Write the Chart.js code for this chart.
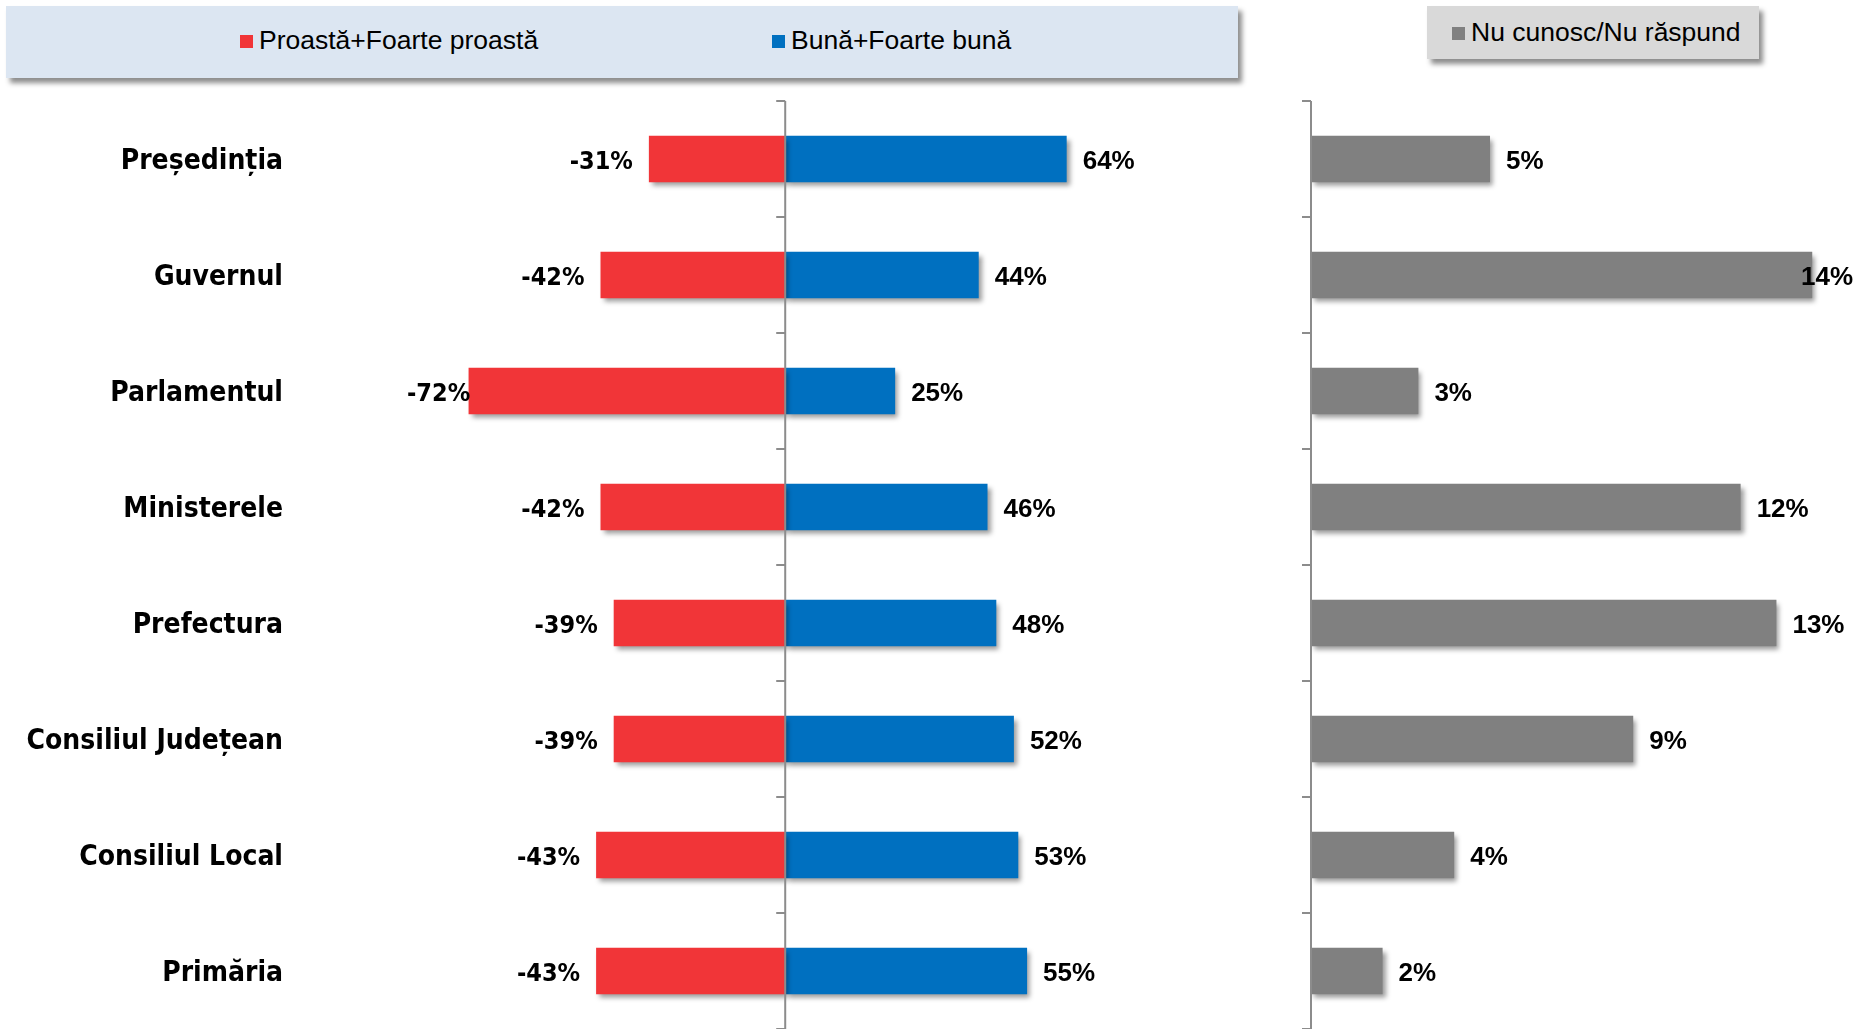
<!DOCTYPE html>
<html>
<head>
<meta charset="utf-8">
<script src="https://cdn.jsdelivr.net/npm/chart.js@4/dist/chart.umd.min.js"></script>
<style>
  body { margin: 0; background: #fff; width: 1857px; height: 1029px; overflow: hidden; position: relative; }
  #left-wrap { position: absolute; left: 0; top: 0; width: 1240px; height: 1029px; }
  #right-wrap { position: absolute; left: 1245px; top: 0; width: 612px; height: 1029px; }
  .legend-box { position: absolute; font-family: "Liberation Sans", Arial, sans-serif; font-size: 26.5px; color: #000; }
  .legend-item { position: absolute; white-space: nowrap; line-height: 30px; }
  .legend-item span { display: inline-block; width: 13px; height: 13px; margin-right: 6px; vertical-align: 1px; }
</style>
</head>
<body>
<div id="legend-main" class="legend-box" style="left:6px; top:6px; width:1232px; height:72px; background:#DCE6F2; box-shadow:4px 5px 5px rgba(0,0,0,0.45);"></div>
<div id="legend-side" class="legend-box" style="left:1427px; top:6px; width:332px; height:53px; background:#D9D9D9; box-shadow:4px 5px 5px rgba(0,0,0,0.45);"></div>
<div id="left-wrap"><canvas id="chart-left"></canvas></div>
<div id="right-wrap"><canvas id="chart-right"></canvas></div>
<script>
var categories = ['Președinția', 'Guvernul', 'Parlamentul', 'Ministerele', 'Prefectura', 'Consiliul Județean', 'Consiliul Local', 'Primăria'];
var badValues = [-31, -42, -72, -42, -39, -39, -43, -43];
var goodValues = [64, 44, 25, 46, 48, 52, 53, 55];
var unknownValues = [5, 14, 3, 12, 13, 9, 4, 2];

var seriesNames = ['Proastă+Foarte proastă', 'Bună+Foarte bună', 'Nu cunosc/Nu răspund'];
var seriesColors = ['#F13538', '#0070C0', '#808080'];

var narrowFont = '"Liberation Sans Narrow", "DejaVu Sans Condensed", "Arial Narrow", sans-serif';
var plainFont = '"Liberation Sans", Arial, sans-serif';

// html legends
var addLegendItem = function(boxId, idx, left, top) {
  var el = document.createElement('div');
  el.className = 'legend-item';
  el.style.left = left + 'px';
  el.style.top = top + 'px';
  el.innerHTML = '<span style="background:' + seriesColors[idx] + '"></span>' + seriesNames[idx];
  document.getElementById(boxId).appendChild(el);
};
addLegendItem('legend-main', 0, 234, 19);
addLegendItem('legend-main', 1, 766, 19);
addLegendItem('legend-side', 2, 25, 11);

var barShadow = {
  id: 'barShadow',
  beforeDatasetDraw: function(chart) {
    var ctx = chart.ctx;
    ctx.save();
    ctx.shadowColor = 'rgba(0,0,0,0.4)';
    ctx.shadowBlur = 5;
    ctx.shadowOffsetX = 3;
    ctx.shadowOffsetY = 4;
  },
  afterDatasetDraw: function(chart) {
    chart.ctx.restore();
  }
};

var centerAxis = {
  id: 'centerAxis',
  afterDatasetsDraw: function(chart) {
    var ctx = chart.ctx, x = chart.scales.x.getPixelForValue(0), y = chart.scales.y;
    ctx.save();
    ctx.strokeStyle = '#8C8C8C';
    ctx.lineWidth = 2;
    ctx.beginPath();
    ctx.moveTo(x, chart.chartArea.top);
    ctx.lineTo(x, chart.chartArea.bottom);
    for (var i = 0; i <= categories.length; i++) {
      var ty = Math.round(y.getPixelForValue(i - 0.5));
      ctx.moveTo(x - 9, ty);
      ctx.lineTo(x, ty);
    }
    ctx.stroke();
    ctx.restore();
  }
};

var valueLabels = {
  id: 'valueLabels',
  afterDatasetsDraw: function(chart) {
    var ctx = chart.ctx, area = chart.chartArea;
    ctx.save();
    ctx.fillStyle = '#000';
    ctx.textBaseline = 'middle';
    chart.data.datasets.forEach(function(ds, di) {
      ctx.font = ds.labelFont;
      chart.getDatasetMeta(di).data.forEach(function(bar, i) {
        var v = ds.data[i];
        var txt = v + '%';
        var w = ctx.measureText(txt).width;
        var x;
        if (v < 0) {
          x = bar.x - 16 - w;
          if (x < area.left) x = area.left;
        } else {
          x = bar.x + 16;
          if (x + w > chart.width - 4) x = chart.width - 4 - w;
        }
        ctx.textAlign = 'left';
        ctx.fillText(txt, x, bar.y + 3);
      });
    });
    ctx.restore();
  }
};

Chart.defaults.animation = false;
Chart.defaults.plugins.legend.display = false;
Chart.defaults.plugins.tooltip.enabled = false;

new Chart(document.getElementById('chart-left'), {
  type: 'bar',
  data: {
    labels: categories,
    datasets: [
      { label: seriesNames[0], data: badValues, backgroundColor: seriesColors[0], labelFont: 'bold 25px ' + narrowFont },
      { label: seriesNames[1], data: goodValues, backgroundColor: seriesColors[1], labelFont: 'bold 26px ' + plainFont }
    ]
  },
  options: {
    indexAxis: 'y',
    responsive: true,
    maintainAspectRatio: false,
    layout: { padding: { top: 101, right: 15, bottom: 0, left: 0 } },
    datasets: { bar: { categoryPercentage: 1, barPercentage: 0.4 } },
    scales: {
      x: { stacked: true, min: -86, max: 100, display: false },
      y: {
        stacked: true,
        grid: { display: false, drawTicks: false },
        border: { display: false },
        afterFit: function(s) { s.width = 407; s.paddingTop = 0; s.paddingBottom = 0; },
        ticks: { padding: 124, labelOffset: 3, color: '#000', font: { family: narrowFont, size: 28, weight: 'bold' } }
      }
    }
  },
  plugins: [barShadow, centerAxis, valueLabels]
});

new Chart(document.getElementById('chart-right'), {
  type: 'bar',
  data: {
    labels: categories,
    datasets: [
      { label: seriesNames[2], data: unknownValues, backgroundColor: seriesColors[2], labelFont: 'bold 26px ' + plainFont }
    ]
  },
  options: {
    indexAxis: 'y',
    responsive: true,
    maintainAspectRatio: false,
    layout: { padding: { top: 101, right: 0, bottom: 0, left: 66 } },
    datasets: { bar: { categoryPercentage: 1, barPercentage: 0.4 } },
    scales: {
      x: { min: 0, max: 15.25, display: false },
      y: { display: false }
    }
  },
  plugins: [barShadow, centerAxis, valueLabels]
});
</script>
</body>
</html>
